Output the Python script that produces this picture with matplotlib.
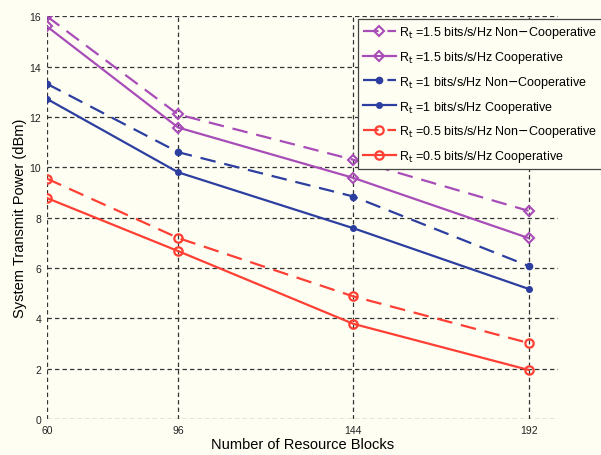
import matplotlib
matplotlib.use("Agg")
import matplotlib.pyplot as plt

plt.rcParams['font.family'] = ['Liberation Sans', 'DejaVu Sans']

resource_blocks = [60, 96, 144, 192]

nc_15 = [16.0, 12.1, 10.3, 8.27]
c_15 = [15.6, 11.58, 9.58, 7.19]
nc_10 = [13.32, 10.6, 8.84, 6.08]
c_10 = [12.72, 9.8, 7.58, 5.17]
nc_05 = [9.55, 7.19, 4.87, 3.02]
c_05 = [8.78, 6.67, 3.78, 1.95]

labels = [
    r'R$_{\rm t}$ =1.5 bits/s/Hz Non$-$Cooperative',
    r'R$_{\rm t}$ =1.5 bits/s/Hz Cooperative',
    r'R$_{\rm t}$ =1 bits/s/Hz Non$-$Cooperative',
    r'R$_{\rm t}$ =1 bits/s/Hz Cooperative',
    r'R$_{\rm t}$ =0.5 bits/s/Hz Non$-$Cooperative',
    r'R$_{\rm t}$ =0.5 bits/s/Hz Cooperative',
]

purple = '#a84db8'
blue = '#2c3fa0'
red = '#ff3f33'
bg = '#fffef3'

fig = plt.figure(figsize=(6.01, 4.56), dpi=100, facecolor=bg)
ax = fig.add_axes([0.078, 0.079, 0.85, 0.883], facecolor=bg)

dash = (0, (7, 4))
ax.plot(resource_blocks, nc_15, color=purple, ls=dash, lw=1.6, marker='D',
        ms=5.5, mfc='none', mew=1.5, label=labels[0])
ax.plot(resource_blocks, c_15, color=purple, ls='-', lw=1.6, marker='D',
        ms=5.5, mfc='none', mew=1.5, label=labels[1])
ax.plot(resource_blocks, nc_10, color=blue, ls=dash, lw=1.6, marker='o',
        ms=4.5, label=labels[2])
ax.plot(resource_blocks, c_10, color=blue, ls='-', lw=1.6, marker='o',
        ms=4.0, label=labels[3])
ax.plot(resource_blocks, nc_05, color=red, ls=dash, lw=1.6, marker='o',
        ms=6, mfc='none', mew=1.6, label=labels[4])
ax.plot(resource_blocks, c_05, color=red, ls='-', lw=1.6, marker='o',
        ms=6, mfc='none', mew=1.6, label=labels[5])

ax.set_xlim(60, 200)
ax.set_ylim(0, 16)
ax.set_xticks(resource_blocks)
ax.set_yticks(range(0, 17, 2))
ax.tick_params(axis='both', length=0, labelsize=7.5, pad=4, colors='#222222')
for s in ax.spines.values():
    s.set_visible(False)
ax.grid(True, color='#333333', ls=(0, (3.5, 2.5)), lw=0.9)
ax.set_axisbelow(True)

ax.set_xlabel('Number of Resource Blocks', fontsize=10.5, labelpad=2)
ax.set_ylabel('System Transmit Power (dBm)', fontsize=10.5, labelpad=2)

leg = ax.legend(loc='upper left', bbox_to_anchor=(0.597, 1.008), fontsize=9,
                frameon=True, fancybox=False, handlelength=2.6,
                labelspacing=0.7, borderpad=0.4, handletextpad=0.3,
                facecolor=bg, edgecolor='#444444', framealpha=1)
leg.get_frame().set_linewidth(0.9)

fig.savefig('out.png', dpi=100, facecolor=bg)
